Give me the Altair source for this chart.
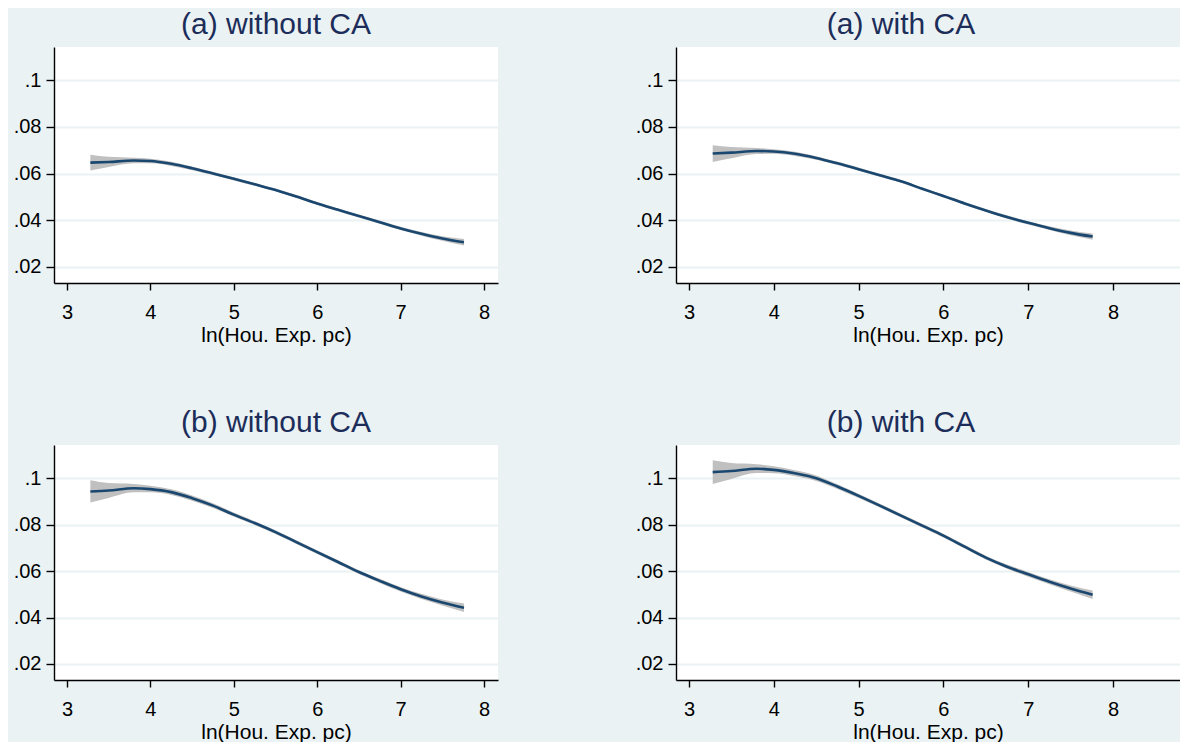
import altair as alt
import pandas as pd

FONT = "Liberation Sans"

# x positions (ln household expenditure per capita)
x_pts = [3.28, 3.5, 3.8, 4.0, 4.25, 4.5, 4.75, 5.0, 5.25, 5.5, 5.75,
         6.0, 6.25, 6.5, 6.75, 7.0, 7.25, 7.5, 7.76]

# fitted values
a_without = [0.0647, 0.0650, 0.0656, 0.0654, 0.0642, 0.0623, 0.0601, 0.0578, 0.0554, 0.0530,
             0.0502, 0.0472, 0.0445, 0.0418, 0.0392, 0.0365, 0.0342, 0.0322, 0.0306]
a_with = [0.0686, 0.0690, 0.0697, 0.0695, 0.0685, 0.0667, 0.0644, 0.0619, 0.0593, 0.0567,
          0.0535, 0.0504, 0.0472, 0.0442, 0.0414, 0.0389, 0.0366, 0.0346, 0.0330]
b_without = [0.0943, 0.0947, 0.0957, 0.0953, 0.0940, 0.0914, 0.0882, 0.0843, 0.0807, 0.0768,
             0.0725, 0.0682, 0.0639, 0.0596, 0.0558, 0.0522, 0.0491, 0.0465, 0.0442]
b_with = [0.1026, 0.1031, 0.1041, 0.1036, 0.1021, 0.1000, 0.0964, 0.0924, 0.0882, 0.0839,
          0.0796, 0.0753, 0.0705, 0.0658, 0.0619, 0.0586, 0.0554, 0.0525, 0.0498]

# confidence-band half widths
ci_a_without = [0.0034, 0.0022, 0.0012, 0.0010, 0.0009, 0.0008, 0.0007, 0.0007, 0.0006, 0.0006,
                0.0006, 0.0006, 0.0006, 0.0006, 0.0007, 0.0007, 0.0008, 0.0010, 0.0014]
ci_a_with = [0.0036, 0.0024, 0.0013, 0.0010, 0.0009, 0.0008, 0.0007, 0.0007, 0.0006, 0.0006,
             0.0006, 0.0006, 0.0006, 0.0006, 0.0007, 0.0007, 0.0008, 0.0010, 0.0013]
ci_b_without = [0.0048, 0.0032, 0.0018, 0.0014, 0.0012, 0.0011, 0.0010, 0.0009, 0.0008, 0.0008,
                0.0008, 0.0008, 0.0008, 0.0008, 0.0009, 0.0010, 0.0011, 0.0013, 0.0018]
ci_b_with = [0.0051, 0.0034, 0.0019, 0.0015, 0.0013, 0.0012, 0.0010, 0.0009, 0.0008, 0.0008,
             0.0008, 0.0008, 0.0008, 0.0008, 0.0009, 0.0010, 0.0011, 0.0013, 0.0018]

titles = ["(a) without CA", "(a) with CA", "(b) without CA", "(b) with CA"]
x_ticks = [3, 4, 5, 6, 7, 8]
y_ticks = [0.02, 0.04, 0.06, 0.08, 0.1]
x_title = "ln(Hou. Exp. pc)"

BG = "#EAF2F3"
LINE = "#1a476f"
BAND = "#c0c0c0"
TITLE_C = "#1c2d5a"


def panel(title, yv, ci, width, height, xdom, ydom, dx):
    df = pd.DataFrame({
        "x": x_pts,
        "y": yv,
        "lo": [v - c for v, c in zip(yv, ci)],
        "hi": [v + c for v, c in zip(yv, ci)],
    })
    xaxis = alt.Axis(values=x_ticks, grid=False, title=x_title, tickSize=7,
                     labelPadding=12, titlePadding=2, format="d")
    yaxis = alt.Axis(values=y_ticks, grid=True, title=None, tickSize=8,
                     labelPadding=5,
                     labelExpr="replace(format(datum.value, '.2~f'), /^0/, '')")
    xs = alt.Scale(domain=xdom, nice=False, zero=False)
    ys = alt.Scale(domain=ydom, nice=False, zero=False)
    base = alt.Chart(df)
    band = base.mark_area(color=BAND, opacity=1, interpolate="monotone").encode(
        x=alt.X("x:Q", scale=xs, axis=xaxis),
        y=alt.Y("lo:Q", scale=ys, axis=yaxis),
        y2="hi:Q",
    )
    line = base.mark_line(color=LINE, strokeWidth=2.6, interpolate="monotone").encode(
        x=alt.X("x:Q", scale=xs),
        y=alt.Y("y:Q", scale=ys),
    )
    return alt.layer(band, line).properties(
        width=width, height=height,
        title=alt.TitleParams(title, fontSize=30, font=FONT, color=TITLE_C,
                              fontWeight="normal", anchor="middle", frame="group",
                              offset=7, dx=dx),
    )


ydom = [0.0131, 0.1143]
left_dom = [2.844, 8.168]
right_dom = [2.847, 8.79]

p1 = panel(titles[0], a_without, ci_a_without, 444, 236, left_dom, ydom, 0)
p2 = panel(titles[1], a_with, ci_a_with, 504, 236, right_dom, ydom, -27)
p3 = panel(titles[2], b_without, ci_b_without, 444, 235, left_dom, ydom, 0)
p4 = panel(titles[3], b_with, ci_b_with, 504, 235, right_dom, ydom, -27)

row1 = alt.hconcat(p1, p2, spacing=137)
row2 = alt.hconcat(p3, p4, spacing=137)

chart = alt.vconcat(row1, row2, spacing=63).configure(
    background=BG, padding={"left": 5, "top": 2, "right": 0, "bottom": 0}, font=FONT
).configure_view(
    stroke=None, fill="white"
).configure_axis(
    labelFont=FONT, titleFont=FONT, labelFontSize=20, titleFontSize=21,
    labelColor="black", titleColor="black", titleFontWeight="normal",
    domainColor="black", domainWidth=1.4, tickColor="black", tickWidth=1.4,
    gridColor=BG, gridWidth=2, labelFlush=False, labelOverlap=False,
)

chart.save("out.html", embed_options={"renderer": "svg", "actions": False})
